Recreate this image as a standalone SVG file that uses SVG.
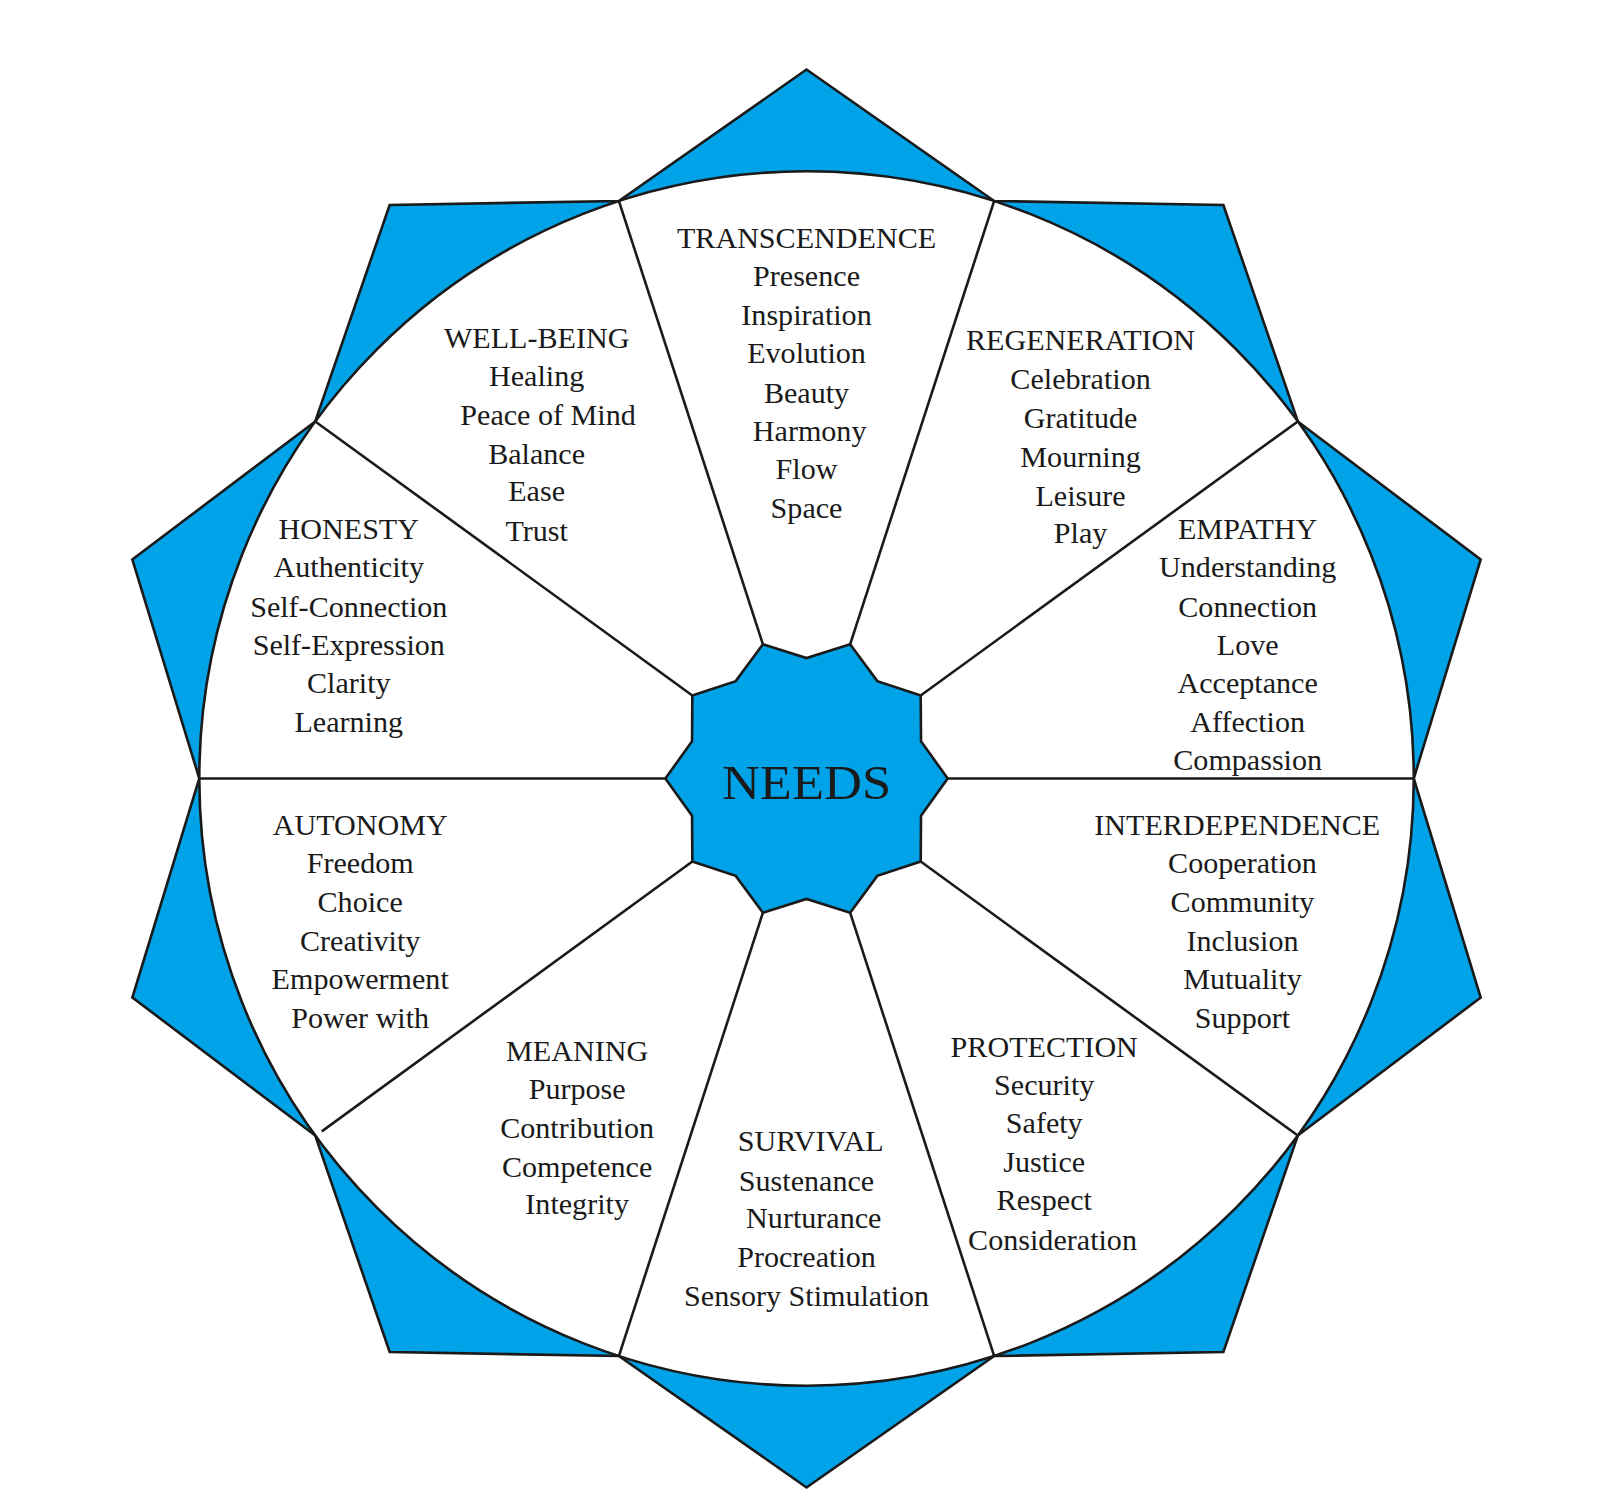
<svg xmlns="http://www.w3.org/2000/svg" width="1622" height="1512" viewBox="0 0 1622 1512">
<style>
.sh{stroke:#1a1a1a;stroke-width:2.5;stroke-linejoin:miter}
.t{font-family:"Liberation Serif","Times New Roman",serif;font-size:29px;fill:#1a1a1a;text-anchor:middle}
</style>
<rect width="1622" height="1512" fill="#fff"/>
<g transform="scale(1.038)">
<g id="star">
<polygon class="sh" fill="#00a2e8" points="1362,750 1426.5,961 1250.3,1094 1178.6,1302.5 957.8,1306.4 777,1433 596.2,1306.4 375.4,1302.5 303.7,1094 127.5,961 192,750 127.5,539 303.7,406 375.4,197.5 596.2,193.6 777,67 957.8,193.6 1178.6,197.5 1250.3,406 1426.5,539"/>
<circle class="sh" fill="#fff" cx="777" cy="750" r="585"/>
</g>
<g id="connectors" class="sh" fill="none">
<line x1="1362" y1="750" x2="913" y2="750"/>
<line x1="1250.3" y1="1094" x2="887" y2="830"/>
<line x1="957.8" y1="1306.4" x2="819" y2="879.3"/>
<line x1="596.2" y1="1306.4" x2="735" y2="879.3"/>
<line x1="310" y1="1090" x2="667" y2="830"/>
<line x1="192" y1="750" x2="641" y2="750"/>
<line x1="303.7" y1="406" x2="667" y2="670"/>
<line x1="596.2" y1="193.6" x2="735" y2="620.7"/>
<line x1="957.8" y1="193.6" x2="819" y2="620.7"/>
<line x1="1250.3" y1="406" x2="887" y2="670"/>
</g>
<g id="needs">
<polygon class="sh" fill="#00a2e8" points="913,750 887.3,785.8 887,830 845.2,843.8 819,879.3 777,866 735,879.3 708.8,843.8 667,830 666.7,785.8 641,750 666.7,714.2 667,670 708.8,656.2 735,620.7 777,634 819,620.7 845.2,656.2 887,670 887.3,714.2"/>
<text x="777" y="770" font-family="Liberation Serif,serif" font-size="46" fill="#1a1a1a" text-anchor="middle" textLength="163" lengthAdjust="spacingAndGlyphs">NEEDS</text>
</g>
<g id="transcendence" class="t">
<text x="777" y="239">TRANSCENDENCE</text>
<text x="777" y="276">Presence</text>
<text x="777" y="313">Inspiration</text>
<text x="777" y="350">Evolution</text>
<text x="777" y="388">Beauty</text>
<text x="780" y="425">Harmony</text>
<text x="777" y="461">Flow</text>
<text x="777" y="499">Space</text>
</g>
<g id="wellbeing" class="t">
<text x="517" y="335">WELL-BEING</text>
<text x="517" y="372">Healing</text>
<text x="528" y="409">Peace of Mind</text>
<text x="517" y="447">Balance</text>
<text x="517" y="483">Ease</text>
<text x="517" y="521">Trust</text>
</g>
<g id="regeneration" class="t">
<text x="1041" y="337">REGENERATION</text>
<text x="1041" y="375">Celebration</text>
<text x="1041" y="412">Gratitude</text>
<text x="1041" y="450">Mourning</text>
<text x="1041" y="487">Leisure</text>
<text x="1041" y="523">Play</text>
</g>
<g id="honesty" class="t">
<text x="336" y="519">HONESTY</text>
<text x="336" y="556">Authenticity</text>
<text x="336" y="594">Self-Connection</text>
<text x="336" y="631">Self-Expression</text>
<text x="336" y="668">Clarity</text>
<text x="336" y="705">Learning</text>
</g>
<g id="empathy" class="t">
<text x="1202" y="519">EMPATHY</text>
<text x="1202" y="556">Understanding</text>
<text x="1202" y="594">Connection</text>
<text x="1202" y="631">Love</text>
<text x="1202" y="668">Acceptance</text>
<text x="1202" y="705">Affection</text>
<text x="1202" y="742">Compassion</text>
</g>
<g id="autonomy" class="t">
<text x="347" y="804">AUTONOMY</text>
<text x="347" y="841">Freedom</text>
<text x="347" y="879">Choice</text>
<text x="347" y="916">Creativity</text>
<text x="347" y="953">Empowerment</text>
<text x="347" y="990">Power with</text>
</g>
<g id="interdependence" class="t">
<text x="1192" y="804">INTERDEPENDENCE</text>
<text x="1197" y="841">Cooperation</text>
<text x="1197" y="879">Community</text>
<text x="1197" y="916">Inclusion</text>
<text x="1197" y="953">Mutuality</text>
<text x="1197" y="990">Support</text>
</g>
<g id="meaning" class="t">
<text x="556" y="1022">MEANING</text>
<text x="556" y="1059">Purpose</text>
<text x="556" y="1096">Contribution</text>
<text x="556" y="1134">Competence</text>
<text x="556" y="1170">Integrity</text>
</g>
<g id="survival" class="t">
<text x="781" y="1109">SURVIVAL</text>
<text x="777" y="1147">Sustenance</text>
<text x="784" y="1183">Nurturance</text>
<text x="777" y="1221">Procreation</text>
<text x="777" y="1258">Sensory Stimulation</text>
</g>
<g id="protection" class="t">
<text x="1006" y="1018">PROTECTION</text>
<text x="1006" y="1055">Security</text>
<text x="1006" y="1092">Safety</text>
<text x="1006" y="1129">Justice</text>
<text x="1006" y="1166">Respect</text>
<text x="1014" y="1204">Consideration</text>
</g>
</g>
</svg>
